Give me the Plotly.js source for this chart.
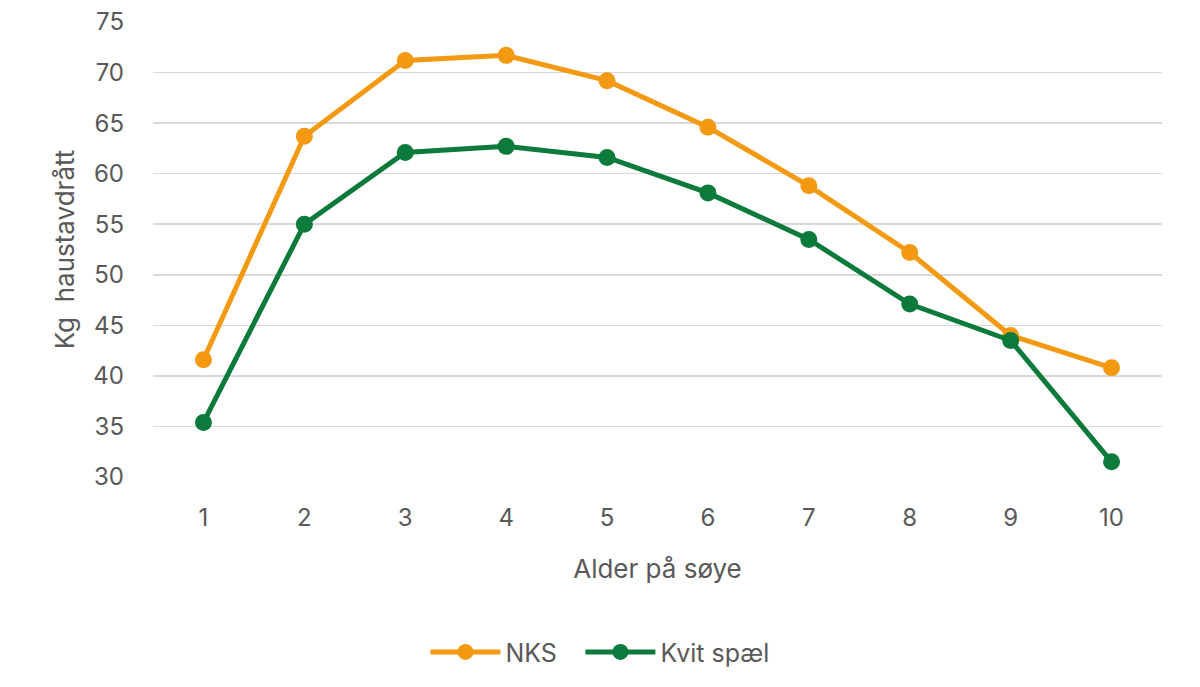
<!DOCTYPE html>
<html>
<head>
<meta charset="utf-8">
<script src="https://cdn.plot.ly/plotly-3.0.1.min.js"></script>
<style>html,body{margin:0;padding:0;background:#fff}#chart{width:1200px;height:687px}</style>
</head>
<body>
<div id="chart"></div>
<script>
const ages = [1, 2, 3, 4, 5, 6, 7, 8, 9, 10];
const nks = [41.6, 63.7, 71.2, 71.7, 69.2, 64.6, 58.8, 52.2, 44.0, 40.8];
const kvitSpael = [35.4, 55.0, 62.1, 62.7, 61.6, 58.1, 53.5, 47.1, 43.5, 31.5];
const seriesNames = ["NKS", "Kvit spæl"];
const yTicks = [30, 35, 40, 45, 50, 55, 60, 65, 70, 75];

const font = "Inter, Liberation Sans, sans-serif";
const traces = [
  {x: ages, y: nks, name: seriesNames[0], type: "scatter", mode: "lines+markers", legend: "legend",
   line: {color: "#F39A12", width: 5}, marker: {color: "#F39A12", size: 17}},
  {x: ages, y: kvitSpael, name: seriesNames[1], type: "scatter", mode: "lines+markers", legend: "legend2",
   line: {color: "#0B7A3B", width: 5}, marker: {color: "#0B7A3B", size: 17}}
];
const legendStyle = {orientation: "h", xanchor: "left", y: -0.385, yanchor: "middle",
                     font: {size: 25, color: "#595959"}, itemwidth: 70};
const layout = {
  width: 1200, height: 687,
  margin: {l: 153, r: 38, t: 22, b: 204},
  paper_bgcolor: "#fff", plot_bgcolor: "#fff",
  font: {family: font, color: "#595959"},
  showlegend: true,
  legend: Object.assign({x: 0.27}, legendStyle),
  legend2: Object.assign({x: 0.4236}, legendStyle),
  xaxis: {range: [0.5, 10.5], tickvals: ages, ticktext: ages.map(String),
          showgrid: false, zeroline: false, showline: false, ticks: "",
          tickfont: {size: 24, color: "#595959"}, ticklabelstandoff: 24,
          title: {text: "Alder på søye", font: {size: 26, color: "#595959"}, standoff: 28}},
  yaxis: {range: [30, 75], tickvals: yTicks, showgrid: true, gridcolor: "#D9D9D9", gridwidth: 1.5,
          zeroline: false, showline: false, ticks: "",
          tickfont: {size: 24, color: "#595959"}, ticklabelstandoff: 28,
          title: {text: "Kg  haustavdrått", font: {size: 26, color: "#595959"}, standoff: 11}}
};
Plotly.newPlot("chart", traces, layout, {displayModeBar: false, staticPlot: true});
</script>
</body>
</html>
